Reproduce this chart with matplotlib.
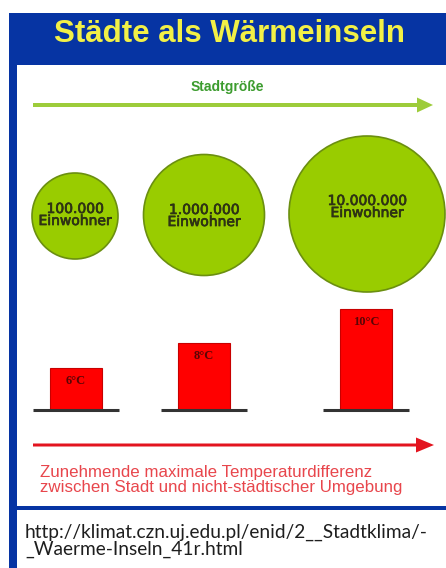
import numpy as np
import matplotlib
matplotlib.use("Agg")
import matplotlib.pyplot as plt
import matplotlib.patheffects as pe
from matplotlib.patches import Rectangle, Circle, FancyArrow

# ======== Daten ========
einwohner = [100000, 1000000, 10000000]
einwohner_labels = ["100.000\nEinwohner", "1.000.000\nEinwohner", "10.000.000\nEinwohner"]
temp_diff = [6, 8, 10]                  # °C
balken_hoehe = [42, 67, 101]            # Balkenhöhe
temp_labels = [f"{t}°C" for t in temp_diff]

titel = "Städte als Wärmeinseln"
pfeil_oben = "Stadtgröße"
pfeil_unten = "Zunehmende maximale Temperaturdifferenz\nzwischen Stadt und nicht-städtischer Umgebung"
quelle = "http://klimat.czn.uj.edu.pl/enid/2__Stadtklima/-\n_Waerme-Inseln_41r.html"

# ======== Farben ========
BLAU = "#0634a3"
GELB = "#f2f046"
GRUEN_PFEIL = "#9dcc3a"
GRUEN_TEXT = "#3c9c2e"
KREIS = "#99cc00"
KREIS_RAND = "#6b8f10"
ROT = "#ff0000"
ROT_PFEIL = "#e3141f"
ROT_TEXT = "#e8464c"

W, H = 446, 568
fig = plt.figure(figsize=(W / 100, H / 100), dpi=100)
ax = fig.add_axes([0, 0, 1, 1])
ax.set_xlim(0, W)
ax.set_ylim(H, 0)
ax.axis("off")

# ======== Rahmen ========
ax.add_patch(Rectangle((9, 13), W - 9, H - 13, facecolor=BLAU, edgecolor="none"))
ax.add_patch(Rectangle((17, 65), W - 17, 441, facecolor="white", edgecolor="none"))
ax.add_patch(Rectangle((17, 510), W - 17, H - 510, facecolor="white", edgecolor="none"))

ax.text(229, 34, titel, ha="center", va="center", color=GELB,
        fontsize=22.5, fontweight="bold", family="Liberation Sans")

# ======== Pfeil Stadtgröße ========
ax.add_patch(FancyArrow(33, 105, 400, 0, width=4, head_width=15, head_length=16,
                        length_includes_head=True, color=GRUEN_PFEIL, lw=0))
ax.text(227, 87, pfeil_oben, ha="center", va="center", color=GRUEN_TEXT,
        fontsize=10, fontweight="bold", family="Liberation Sans")

# ======== Kreise ========
kreis_x = [75, 204, 367]
kreis_y = [216, 215, 214]
text_dy = [-1, 1, -7]
for i, p in enumerate(einwohner):
    r = 43 + 17.5 * (np.log10(p) - 5)
    ax.add_patch(Circle((kreis_x[i], kreis_y[i]), r, facecolor=KREIS,
                        edgecolor=KREIS_RAND, lw=1.2))
    t = ax.text(kreis_x[i], kreis_y[i] + text_dy[i], einwohner_labels[i], ha="center", va="center",
                color="#2e3314", fontsize=10, family="DejaVu Sans", linespacing=0.82)
    t.set_path_effects([pe.withStroke(linewidth=0.5, foreground="#2e3314")])

# ======== Balken ========
basis = 410
balken_x = [76, 204, 366]
ax.bar(balken_x, [-h for h in balken_hoehe], bottom=basis, width=52,
       color=ROT, edgecolor="#c80000", linewidth=0.8, zorder=2)
for x, h, lab in zip(balken_x, balken_hoehe, temp_labels):
    ax.plot([x - 43, x + 43], [basis, basis], color="#333333", lw=2.2,
            solid_capstyle="butt", zorder=3)
    ax.text(x, basis - h + 13, lab, ha="center", va="center", color="#5a0505",
            fontsize=9, fontweight="bold", family="Liberation Serif", zorder=4)

# ======== Pfeil Temperaturdifferenz ========
ax.add_patch(FancyArrow(33, 445, 401, 0, width=3, head_width=15, head_length=18,
                        length_includes_head=True, color=ROT_PFEIL, lw=0))
ax.text(40, 480, pfeil_unten, ha="left", va="center", color=ROT_TEXT,
        fontsize=12.2, family="Liberation Sans", linespacing=0.98)

# ======== Quelle ========
ax.text(25, 541, quelle, ha="left", va="center", color="#1e1e1e",
        fontsize=13.8, family="Lato", linespacing=0.96)

fig.savefig("out.png", dpi=100)
